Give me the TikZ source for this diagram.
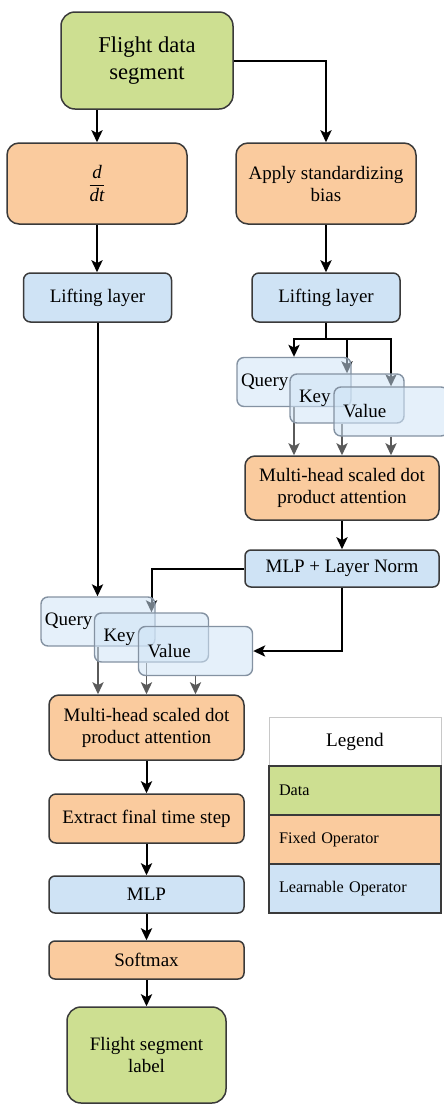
\documentclass[tikz,border=0pt]{standalone}
\usepackage{fontspec}
\setmainfont{Liberation Serif}
\usetikzlibrary{arrows.meta,calc}

\definecolor{datagreen}{RGB}{205,223,145}
\definecolor{fixorange}{RGB}{250,203,158}
\definecolor{learnblue}{RGB}{207,227,245}
\definecolor{boxline}{RGB}{58,58,58}
\definecolor{qkvline}{RGB}{132,146,162}
\definecolor{arrgray}{RGB}{90,90,90}
\definecolor{headline}{RGB}{200,200,200}

\pgfdeclarelayer{edges}
\pgfsetlayers{edges,main}

\tikzset{
  box/.style={draw=boxline, line width=0.75pt, align=center, inner sep=1pt,
    font=\fontsize{9.5}{11}\selectfont},
  data/.style={box, fill=datagreen},
  fixed/.style={box, fill=fixorange},
  learn/.style={box, fill=learnblue},
  qkv/.style={draw=qkvline, fill=learnblue, fill opacity=0.55, text opacity=1,
    line width=0.7pt, rounded corners=3.5pt, minimum height=24.5pt,
    inner xsep=#1, text width=57pt-2*#1, align=left,
    font=\fontsize{9.5}{11}\selectfont},
  qkv/.default=2pt,
  legrow/.style={draw=boxline, line width=0.7pt, minimum height=24.5pt,
    inner xsep=5pt, text width=76pt, align=left,
    font=\fontsize{8.1}{10}\selectfont},
  arr/.style={-{Stealth[length=6pt,width=5.6pt,inset=1.4pt]}, line width=1pt},
  garr/.style={arr, line width=0.85pt, draw=arrgray, fill=arrgray},
}

\begin{document}
\begin{tikzpicture}[x=0.5pt, y=-0.5pt]
  \clip (0,0) rectangle (444,1104);

  % input and preprocessing
  \node[data, minimum width=86pt, minimum height=48.5pt, rounded corners=7pt,
    font=\fontsize{11.3}{13.5}\selectfont] (seg) at (147,60.5) {Flight data\\segment};
  \node[fixed, minimum width=90pt, minimum height=40.5pt, rounded corners=6pt]
    (ddt) at (97,183.5) {$\displaystyle\frac{\textit{d}}{\textit{dt}}$};
  \node[fixed, minimum width=90pt, minimum height=40.5pt, rounded corners=6pt]
    (bias) at (326,183.5) {Apply standardizing\\bias};
  \node[learn, minimum width=74pt, minimum height=24.5pt, rounded corners=3.5pt]
    (liftL) at (97.5,297.5) {Lifting layer};
  \node[learn, minimum width=74pt, minimum height=24.5pt, rounded corners=3.5pt]
    (liftR) at (326,297.5) {Lifting layer};

  % self attention on the right branch
  \node[qkv] (qR) at (294,382) {Query};
  \node[qkv=4.5pt] (kR) at (347,398.5) {Key};
  \node[qkv=4.5pt] (vR) at (391,411.5) {Value};
  \node[fixed, minimum width=97pt, minimum height=32pt, rounded corners=5pt]
    (attR) at (342,488) {Multi-head scaled dot\\product attention};
  \node[learn, minimum width=97pt, minimum height=18.5pt, rounded corners=3pt]
    (normR) at (342,568.5) {MLP + Layer Norm};

  % cross attention on the left branch
  \node[qkv] (qL) at (98,621.5) {Query};
  \node[qkv=4.5pt] (kL) at (151.5,637.5) {Key};
  \node[qkv=4.5pt] (vL) at (195.5,651) {Value};
  \node[fixed, minimum width=97.5pt, minimum height=32.5pt, rounded corners=5pt]
    (attL) at (146.5,727.5) {Multi-head scaled dot\\product attention};
  \node[fixed, minimum width=97.5pt, minimum height=24.5pt, rounded corners=3.5pt]
    (last) at (146.5,818.5) {Extract final time step};
  \node[learn, minimum width=97.5pt, minimum height=18.5pt, rounded corners=3pt]
    (mlp) at (146.5,894.5) {MLP};
  \node[fixed, minimum width=97.5pt, minimum height=19pt, rounded corners=3pt]
    (soft) at (146.5,960) {Softmax};
  \node[data, minimum width=79.5pt, minimum height=48pt, rounded corners=7pt]
    (out) at (146.5,1055) {Flight segment\\label};

  % legend
  \node[draw=headline, line width=0.5pt, minimum width=86pt, minimum height=24.5pt,
    font=\fontsize{9.6}{11}\selectfont] (leghead) at (355,741.5) {Legend};
  \node[legrow, fill=datagreen] (legdata) at (355,790.5) {Data};
  \node[legrow, fill=fixorange] (legfixed) at (355,839.5) {Fixed Operator};
  \node[legrow, fill=learnblue] (leglearn) at (355,888.5) {Learnable Operator};

  \begin{pgfonlayer}{edges}
    \draw[arr] (seg.south -| ddt.north) -- (ddt.north);
    \draw[arr] (seg.east) -| (bias.north);
    \draw[arr] (ddt) -- (ddt |- liftL.north);
    \draw[arr] (bias) -- (liftR);

    \draw[arr] (liftR.south) -- ++(0,16) -| (qR.north);
    \draw[arr] (liftR.south) -- ++(0,16) -| (kR.north);
    \draw[arr] (liftR.south) -- ++(0,16) -| (vR.north);
    \draw[garr] (qR.south) -- (qR.south |- attR.north);
    \draw[garr] (attR.north |- kR.south) -- (attR.north);
    \draw[garr] (vR.south) -- (vR.south |- attR.north);
    \draw[arr] (attR) -- (normR);

    \draw[arr] (liftL.south) -- (liftL.south |- qL.north);
    \draw[arr] (normR.west) -| (kL.north);
    \draw[arr] (normR.south) |- (vL.east);
    \draw[garr] (qL.south) -- (qL.south |- attL.north);
    \draw[garr] (attL.north |- kL.south) -- (attL.north);
    \draw[garr] (vL.south) -- (vL.south |- attL.north);

    \draw[arr] (attL) -- (last);
    \draw[arr] (last) -- (mlp);
    \draw[arr] (mlp) -- (soft);
    \draw[arr] (soft) -- (out);
  \end{pgfonlayer}
\end{tikzpicture}
\end{document}
